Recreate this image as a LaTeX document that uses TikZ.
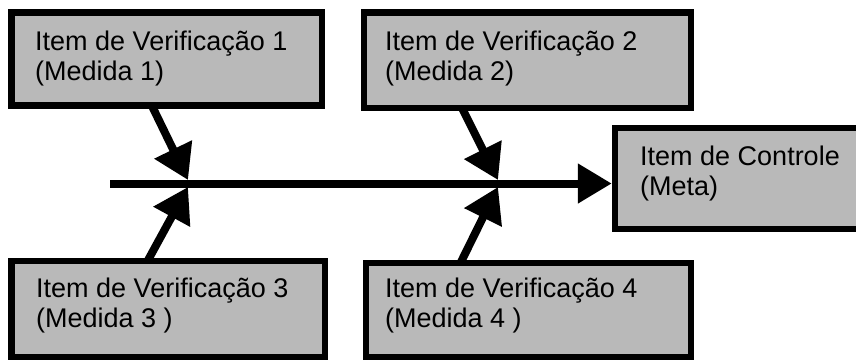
\documentclass[tikz,border=0pt]{standalone}
\usepackage{fontspec}
\setmainfont{Liberation Sans}
\usetikzlibrary{arrows.meta}
\definecolor{boxgray}{RGB}{185,185,185}
\begin{document}
\begin{tikzpicture}[x=1pt,y=-1pt,
  itembox/.style={draw=black, line width=6.5pt, fill=boxgray, inner sep=0pt},
  itemtext/.style={anchor=base west, inner sep=0pt,
    font=\fontsize{27}{30}\selectfont},
  bone/.style={line width=8pt, -{Triangle[length=34pt,width=40pt]}},
  spine/.style={line width=8pt, -{Triangle[length=34pt,width=38pt]}}]
\useasboundingbox (0,0) rectangle (856,360);

% boxes
\node[itembox, minimum width=310.5pt, minimum height=93pt]   (b1) at (166.75,59) {};
\node[itembox, minimum width=327pt,   minimum height=95.5pt] (b2) at (527.5,60.25) {};
\node[itembox, minimum width=265pt,   minimum height=101pt]  (bc) at (747.5,178.5) {};
\node[itembox, minimum width=313.5pt, minimum height=96pt]   (b3) at (168.25,309) {};
\node[itembox, minimum width=325pt,   minimum height=94pt]   (b4) at (528.5,310) {};

% labels
\node[itemtext] (t1) at (35,50)  {\parbox[t]{290pt}{Item de Verificação 1\\(Medida 1)}};
\node[itemtext] (t2) at (385,50) {\parbox[t]{290pt}{Item de Verificação 2\\(Medida 2)}};
\node[itemtext] (tc) at (640,165) {\parbox[t]{220pt}{Item de Controle\\(Meta)}};
\node[itemtext] (t3) at (36,297) {\parbox[t]{290pt}{Item de Verificação 3\\(Medida 3 )}};
\node[itemtext] (t4) at (385,297) {\parbox[t]{290pt}{Item de Verificação 4\\(Medida 4 )}};

% spine
\coordinate (s0) at (110,183.5);
\draw[spine] (s0) -- (s0 -| bc.west);

% joints on the spine
\coordinate (j1u) at (188,180);
\coordinate (j1d) at (188,187);
\coordinate (j2u) at (498,180);
\coordinate (j2d) at (498,187);

% bones
\coordinate (f1) at (152,106);
\coordinate (f2) at (462,108);
\coordinate (f3) at (147,262);
\coordinate (f4) at (460,264);
\draw[bone] (f1) -- (j1u);
\draw[bone] (f3) -- (j1d);
\draw[bone] (f2) -- (j2u);
\draw[bone] (f4) -- (j2d);
\end{tikzpicture}
\end{document}
